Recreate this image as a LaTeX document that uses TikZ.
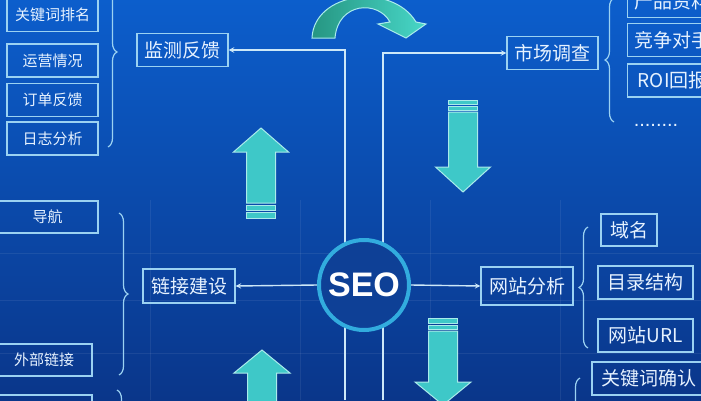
\documentclass[tikz,border=0pt]{standalone}
\usepackage{fontspec}
\setmainfont{Liberation Sans}
\newfontfamily\cjkfont{Noto Sans CJK SC}
\usetikzlibrary{arrows, shapes, decorations.pathreplacing}
\definecolor{bgtop}{RGB}{12,94,204}
\definecolor{bgbot}{RGB}{10,54,138}
\definecolor{boxline}{RGB}{155,210,242}
\definecolor{boxtext}{RGB}{230,242,255}
\definecolor{linkline}{RGB}{205,232,248}
\definecolor{tealfill}{RGB}{62,200,200}
\definecolor{tealedge}{RGB}{170,235,235}
\definecolor{tealdark}{RGB}{38,150,130}
\definecolor{teallight}{RGB}{72,215,200}
\definecolor{ringblue}{RGB}{50,172,222}
\definecolor{coredark}{RGB}{14,64,150}
\tikzstyle{smallbox} = [rectangle, draw=boxline, line width=1.4pt, text=boxtext, font=\cjkfont\fontsize{15}{18}\selectfont, minimum height=33pt, inner sep=0pt]
\tikzstyle{bigbox} = [rectangle, draw=boxline, line width=1.4pt, text=boxtext, font=\cjkfont\fontsize{19}{22}\selectfont, minimum height=33pt, inner sep=0pt]
\tikzstyle{link} = [line width=1.4pt, draw=linkline]
\tikzstyle{arrow} = [link, ->, >=stealth]
\tikzstyle{fatarrow} = [fill=tealfill, draw=tealedge, line width=1pt]
\tikzstyle{bracket} = [draw=boxline, line width=1.2pt, decorate, decoration={brace, amplitude=9pt}]
\tikzstyle{gridline} = [white, opacity=0.07, line width=1pt]

\begin{document}
\begin{tikzpicture}[x=1pt, y=-1pt]

\useasboundingbox (0, 0) rectangle (701, 400);
\fill [top color=bgtop, bottom color=bgbot] (0, 0) rectangle (701, 400);
\foreach \gy in {253, 300, 353} \draw [gridline] (0, \gy) -- (701, \gy);
\foreach \gx in {150, 300, 430, 560} \draw [gridline] (\gx, 200) -- (\gx, 400);

\coordinate (footL) at (345, 400);
\coordinate (footR) at (383, 400);

\node at (182.5, 50) (jiance) [bigbox, minimum width=91pt] {监测反馈};
\node at (552.5, 53) (shichang) [bigbox, minimum width=91pt] {市场调查};
\node at (189, 286) (lianjie) [bigbox, minimum width=92pt, minimum height=34pt] {链接建设};
\node at (527, 286) (wangzhan) [bigbox, minimum width=92pt, minimum height=38pt] {网站分析};

\draw [arrow] (footL) |- (jiance.east);
\draw [arrow] (footR) |- (shichang.west);

\node at (364, 285) (seo) [circle, draw=ringblue, line width=4pt, fill=coredark, minimum size=90pt, inner sep=0pt, text=white, font=\bfseries\fontsize{34}{40}\selectfont] {SEO};

\draw [arrow] (seo.west) -- (lianjie.east);
\draw [arrow] (seo.east) -- (wangzhan.west);

\node at (52.5, 15) (paiming) [smallbox, minimum width=91pt] {关键词排名};
\node at (52.5, 60.5) (yunying) [smallbox, minimum width=91pt] {运营情况};
\node at (52.5, 100) (dingdan) [smallbox, minimum width=91pt] {订单反馈};
\node at (52.5, 138.5) (rizhi) [smallbox, minimum width=91pt] {日志分析};
\node at (47.5, 217) (daohang) [smallbox, minimum width=101pt, minimum height=32pt] {导航};
\node at (44, 360) (waibu) [smallbox, minimum width=96pt, minimum height=32pt] {外部链接};
\node at (44, 412) (xiayige) [smallbox, minimum width=96pt, minimum height=34pt] {};

\node at (627, 1) (chanpin) [bigbox, anchor=west, minimum width=90pt, inner xsep=6pt] {产品资料};
\node at (627, 40) (jingzheng) [bigbox, anchor=west, minimum width=90pt, inner xsep=6pt] {竞争对手};
\node at (627, 80.5) (huibao) [bigbox, anchor=west, minimum width=90pt, inner xsep=6pt] {ROI回报};
\node at (656, 126) (gengduo) [anchor=base, text=boxtext, font=\fontsize{20}{22}\selectfont] {........};

\node at (629, 230) (yuming) [bigbox, minimum width=56pt, minimum height=32pt] {域名};
\node at (645.5, 282.5) (mulu) [bigbox, minimum width=95pt] {目录结构};
\node at (645.5, 335.5) (wangzhi) [bigbox, minimum width=95pt] {网站URL};
\node at (648.5, 378.5) (queren) [bigbox, minimum width=113pt] {关键词确认};

\draw [bracket] (108, -43) -- (108, 147);
\draw [bracket] (119, 213) -- (119, 375);
\draw [bracket] (117, 390) -- (117, 520);
\draw [bracket] (614, 122) -- (614, -2);
\draw [bracket] (588, 348) -- (588, 227);
\draw [bracket] (580, 520) -- (580, 378);

\begin{scope}[shift={(261, 128)}]
\filldraw [fatarrow] (0, 0) -- (27.5, 24) -- (14.5, 24) -- (14.5, 75) -- (-14.5, 75) -- (-14.5, 24) -- (-27.5, 24) -- cycle;
\filldraw [fatarrow] (-14.5, 77) rectangle (14.5, 82);
\filldraw [fatarrow] (-14.5, 84) rectangle (14.5, 90);
\end{scope}

\begin{scope}[shift={(463, 192)}]
\filldraw [fatarrow] (0, 0) -- (27.5, -25) -- (14.5, -25) -- (14.5, -80) -- (-14.5, -80) -- (-14.5, -25) -- (-27.5, -25) -- cycle;
\filldraw [fatarrow] (-14.5, -82) rectangle (14.5, -86);
\filldraw [fatarrow] (-14.5, -88) rectangle (14.5, -92);
\end{scope}

\begin{scope}[shift={(262, 350)}]
\filldraw [fatarrow] (0, 0) -- (28, 23) -- (14.5, 23) -- (14.5, 70) -- (-14.5, 70) -- (-14.5, 23) -- (-28, 23) -- cycle;
\end{scope}

\begin{scope}[shift={(443, 405)}]
\filldraw [fatarrow] (0, 0) -- (28, -23) -- (14.5, -23) -- (14.5, -74) -- (-14.5, -74) -- (-14.5, -23) -- (-28, -23) -- cycle;
\filldraw [fatarrow] (-14.5, -76) rectangle (14.5, -80);
\filldraw [fatarrow] (-14.5, -82) rectangle (14.5, -87);
\end{scope}

\draw [left color=tealdark, right color=teallight, draw=tealedge, line width=1pt] (312, 38) .. controls (314, -8) and (392, -18) .. (416, 22) -- (426, 24) -- (406, 38) -- (378, 24) -- (390, 22) .. controls (378, 0) and (338, 2) .. (335, 38) -- cycle;

\end{tikzpicture}
\end{document}
